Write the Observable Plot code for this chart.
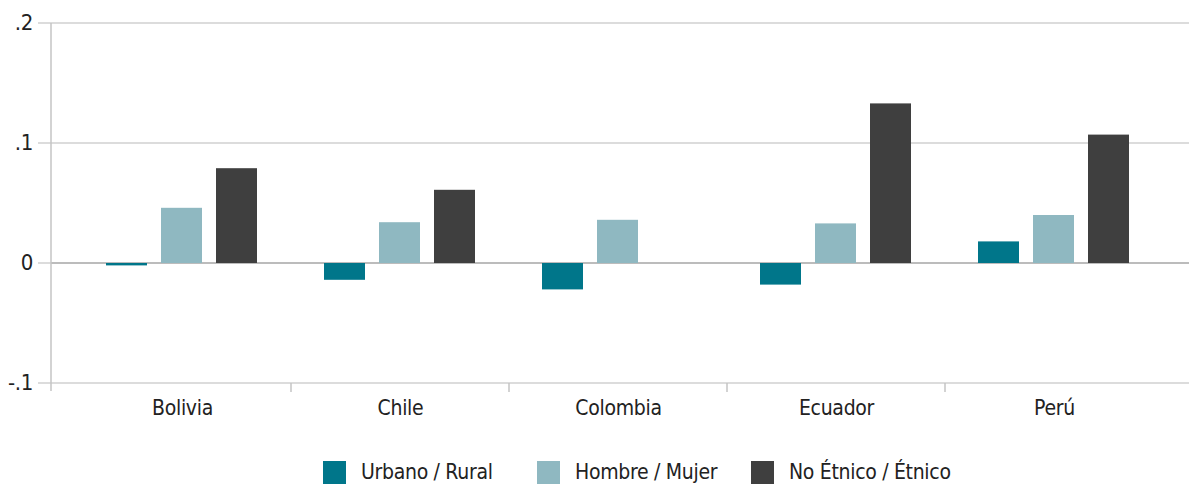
<!DOCTYPE html>
<html>
<head>
<meta charset="utf-8">
<script src="https://cdn.jsdelivr.net/npm/d3@7"></script>
<script src="https://cdn.jsdelivr.net/npm/@observablehq/plot@0.6"></script>
<style>
  html, body { margin: 0; padding: 0; background: #ffffff; }
  body { font-family: "Liberation Sans Narrow", "Arial Narrow", "DejaVu Sans Condensed", sans-serif; color: #222; }
  #legend { display: flex; align-items: center; padding-left: 323px; margin-top: 25px; font-size: 21px; line-height: 23px; letter-spacing: -0.3px; }
  .item { display: flex; align-items: center; width: 214px; flex: none; }
  .sw { width: 23px; height: 23px; margin-right: 15px; flex: none; }
</style>
</head>
<body>
<div id="chart"></div>
<div id="legend"></div>
<script>
const countries = ["Bolivia", "Chile", "Colombia", "Ecuador", "Perú"];
const seriesNames = ["Urbano / Rural", "Hombre / Mujer", "No Étnico / Étnico"];
const urbanoRural = [-0.002, -0.014, -0.022, -0.018, 0.018];
const hombreMujer = [0.046, 0.034, 0.036, 0.033, 0.040];
const noEtnicoEtnico = [0.079, 0.061, null, 0.133, 0.107];
const seriesColors = ["#00768a", "#8fb8c1", "#3f3f3f"];
const yTicks = [-0.1, 0, 0.1, 0.2];

const seriesValues = [urbanoRural, hombreMujer, noEtnicoEtnico];
const data = countries.flatMap((c, i) =>
  seriesNames.map((s, j) => ({country: c, series: s, value: seriesValues[j][i]}))
);

const fmt = d => d === 0 ? "0" : (d < 0 ? "-" : "") + d3.format(".1f")(Math.abs(d)).replace(/^0/, "");
const font = '"Liberation Sans Narrow", "Arial Narrow", "DejaVu Sans Condensed", sans-serif';

const plot = Plot.plot({
  width: 1189,
  height: 436,
  marginLeft: 51,
  marginRight: 0,
  marginTop: 23,
  marginBottom: 53,
  style: {fontFamily: font, fontSize: "21px", color: "#222", background: "#ffffff", overflow: "visible", letterSpacing: "-0.3px"},
  fx: {domain: countries, paddingInner: 0, paddingOuter: 0.103, align: 0.45, label: null},
  x: {domain: seriesNames, paddingInner: 0.25, paddingOuter: 0.58, axis: null},
  y: {domain: [-0.1, 0.2], label: null, axis: null},
  color: {domain: seriesNames, range: seriesColors},
  marks: [
    Plot.barY(data, {fx: "country", x: "series", y: "value", fill: "series"}),
    Plot.axisFx({anchor: "bottom", tickSize: 0, tickPadding: 17, fontSize: 21, fill: "#222", label: null})
  ]
});

document.getElementById("chart").appendChild(plot);

// grid, zero line, y axis and group-separator ticks, placed with the plot's own scales
const fxS = plot.scale("fx");
const yS = plot.scale("y");
const svg = d3.select(plot);
const W = 1189, left = 51;
const yb = yS.apply(-0.1);
const back = svg.insert("g", ":first-child");
back.selectAll("line.grid")
  .data(yTicks)
  .join("line")
  .attr("class", "grid")
  .attr("x1", left - 13)
  .attr("x2", W)
  .attr("y1", d => yS.apply(d))
  .attr("y2", d => yS.apply(d))
  .attr("stroke", "#dcdcdc")
  .attr("stroke-width", 2);
back.append("line")
  .attr("x1", left)
  .attr("x2", W)
  .attr("y1", yS.apply(0))
  .attr("y2", yS.apply(0))
  .attr("stroke", "#bcbcbc")
  .attr("stroke-width", 2);
back.append("line")
  .attr("x1", left)
  .attr("x2", left)
  .attr("y1", yS.apply(0.2))
  .attr("y2", yb + 8)
  .attr("stroke", "#c4c4c4")
  .attr("stroke-width", 1.5);
back.selectAll("text")
  .data(yTicks)
  .join("text")
  .attr("x", left - 18)
  .attr("y", d => yS.apply(d))
  .attr("dy", "0.34em")
  .attr("text-anchor", "end")
  .attr("fill", "#222")
  .attr("font-size", 22)
  .attr("font-family", font)
  .text(fmt);

svg.append("g")
  .selectAll("line")
  .data(countries.slice(0, -1))
  .join("line")
  .attr("x1", d => fxS.apply(d) + fxS.bandwidth)
  .attr("x2", d => fxS.apply(d) + fxS.bandwidth)
  .attr("y1", yb)
  .attr("y2", yb + 9)
  .attr("stroke", "#c4c4c4")
  .attr("stroke-width", 1.5);

const legend = d3.select("#legend");
const items = legend.selectAll(".item").data(seriesNames).join("div").attr("class", "item");
items.append("div").attr("class", "sw").style("background", (d, i) => seriesColors[i]);
items.append("span").text(d => d);
</script>
</body>
</html>
